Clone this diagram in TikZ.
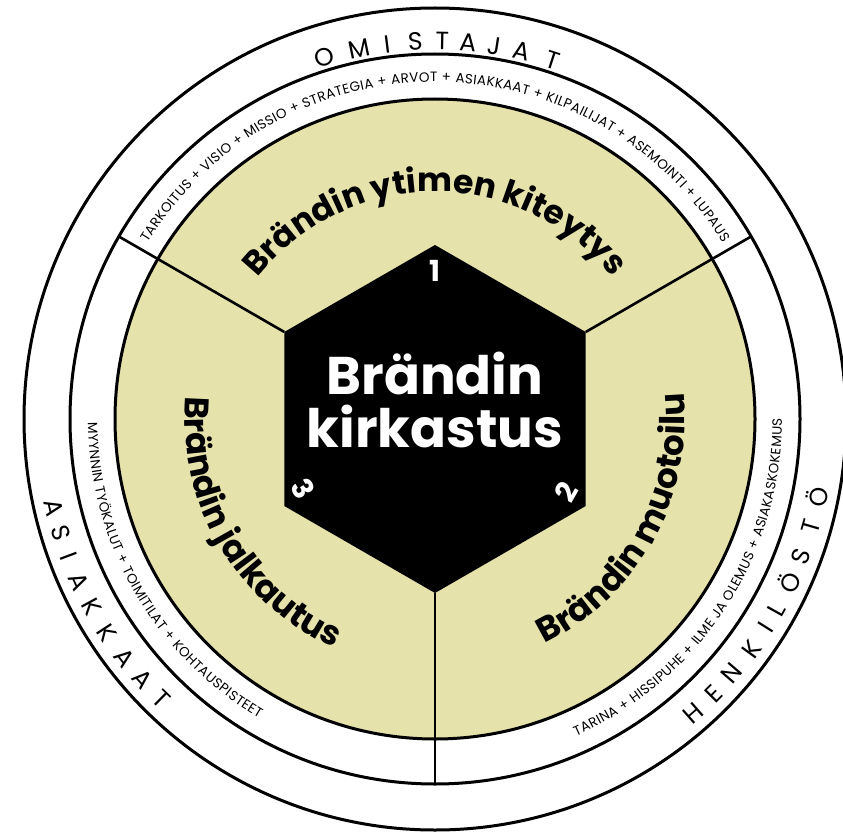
\documentclass[tikz,border=0pt]{standalone}
\usepackage{fontspec}
\setmainfont{Poppins}
\usetikzlibrary{decorations.text}
\definecolor{khaki}{RGB}{229,226,171}
\tikzset{
  ring/.style={draw=black, line width=3pt},
  divider/.style={draw=black, line width=2.6pt},
  bandword/.style={font=\fontsize{25}{25}\selectfont, inner sep=0pt, anchor=base},
  numlabel/.style={font=\bfseries\fontsize{29}{29}\selectfont, text=white, inner sep=0pt},
  centertext/.style={font=\bfseries\fontsize{53}{53}\selectfont, text=white, inner sep=0pt, anchor=base},
}
\begin{document}
\begin{tikzpicture}[x=1pt,y=1pt]
\useasboundingbox (0,0) rectangle (843,-832);
\fill[white] (0,0) rectangle (843,-832);
\begin{scope}[shift={(435,-419)}]
  % rings
  \draw[ring] (0,0) circle[radius=411];
  \draw[ring] (0,0) circle[radius=365];
  \draw[ring, fill=khaki] (0,0) circle[radius=320];
  % hexagon
  \coordinate (hT)  at (90:174);
  \coordinate (hTR) at (30:174);
  \coordinate (hBR) at (-30:174);
  \coordinate (hB)  at (-90:174);
  \coordinate (hBL) at (210:174);
  \coordinate (hTL) at (150:174);
  \fill[black] (hT) -- (hTR) -- (hBR) -- (hB) -- (hBL) -- (hTL) -- cycle;
  % dividers
  \coordinate (eTL) at (150:365);
  \coordinate (eTR) at (30:365);
  \coordinate (eB)  at (-90:365);
  \draw[divider] (hTL) -- (eTL);
  \draw[divider] (hTR) -- (eTR);
  \draw[divider] (hB) -- (eB);
  % small band texts
  \path[decorate, decoration={text along path, text align=fit to path,
     text={|\fontsize{13.5}{13.5}\selectfont|TARKOITUS + VISIO + MISSIO + STRATEGIA + ARVOT + ASIAKKAAT + KILPAILIJAT + ASEMOINTI + LUPAUS}}]
     (148.5:337) arc[start angle=148.5, end angle=31.5, radius=337];
  \path[decorate, decoration={text along path, text align=fit to path,
     text={|\fontsize{13.5}{13.5}\selectfont|MYYNNIN TYÖKALUT + TOIMITILAT + KOHTAUSPISTEET}}]
     (180.5:347) arc[start angle=180.5, end angle=239.5, radius=347];
  \path[decorate, decoration={text along path, text align=fit to path,
     text={|\fontsize{13.5}{13.5}\selectfont|TARINA + HISSIPUHE + ILME JA OLEMUS + ASIAKASKOKEMUS}}]
     (-66:347) arc[start angle=-66, end angle=0, radius=347];
  % big sector texts
  \path[decorate, decoration={text along path, text align=center,
     text={|\bfseries\fontsize{33}{33}\selectfont|Brändin ytimen kiteytys}}]
     (170:227) arc[start angle=170, end angle=10, radius=227];
  \path[decorate, decoration={text along path, text align=center,
     text={|\bfseries\fontsize{34}{34}\selectfont|Brändin muotoilu}}]
     (-99:250) arc[start angle=-99, end angle=41, radius=250];
  \path[decorate, decoration={text along path, text align=center,
     text={|\bfseries\fontsize{34}{34}\selectfont|Brändin jalkautus}}]
     (140.5:250) arc[start angle=140.5, end angle=280.5, radius=250];
  % outer band words
  \foreach \a/\l [count=\i] in {107.0/O,101.6/M,97.2/I,93.0/S,88.9/T,85.0/A,81.0/J,76.7/A,71.9/T}
    \node[bandword, rotate=\a-90] (om\i) at (\a:369) {\l};
  \foreach \a/\l [count=\i] in {193.1/A,197.0/S,200.6/I,204.5/A,208.7/K,213.1/K,217.6/A,221.6/A,225.6/T}
    \node[bandword, rotate=\a+90] (as\i) at (\a:400) {\l};
  \foreach \a/\l [count=\i] in {-48.7/H,-44.6/E,-40.6/N,-36.0/K,-32.2/I,-29.1/L,-24.7/Ö,-20.6/S,-16.0/T,-11.5/Ö}
    \node[bandword, rotate=\a+90] (he\i) at (\a:400) {\l};
  % center
  \node[centertext] (c1) at (0,25) {Brändin};
  \node[centertext] (c2) at (0,-28) {kirkastus};
  % numbers
  \node[numlabel] (n1) at (90:148) {1};
  \node[numlabel, rotate=60] (n2) at (-29:150) {2};
  \node[numlabel, rotate=-60] (n3) at (208:149) {3};
\end{scope}
\end{tikzpicture}
\end{document}
